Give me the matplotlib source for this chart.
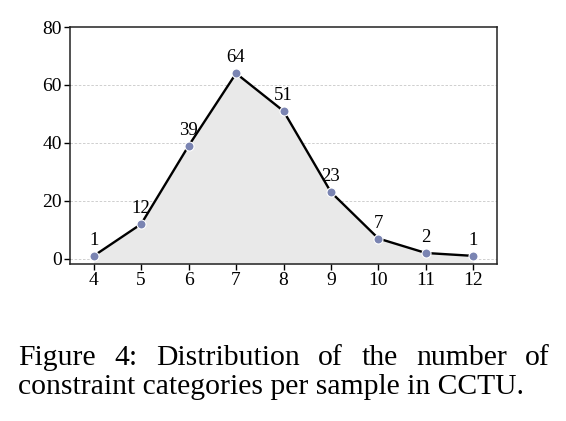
import matplotlib
matplotlib.use("Agg")
import matplotlib.pyplot as plt

categories = [4, 5, 6, 7, 8, 9, 10, 11, 12]
counts = [1, 12, 39, 64, 51, 23, 7, 2, 1]
yticks = [0, 20, 40, 60, 80]
caption_line1 = ["Figure", "4:", "Distribution", "of", "the", "number", "of"]
caption_line2 = "constraint categories per sample in CCTU."

plt.rcParams['font.family'] = ['Liberation Serif', 'DejaVu Serif']

W, H = 566, 421
fig = plt.figure(figsize=(W / 100, H / 100), dpi=100)
ax = fig.add_axes([70 / W, 1 - 264 / H, (497 - 70) / W, (264 - 27) / H])

ybot = -1.8
ax.set_xlim(3.5, 12.5)
ax.set_ylim(ybot, 80)
ax.fill_between(categories, counts, ybot, color='#e9e9e9', zorder=1, linewidth=0)
ax.plot(categories, counts, color='black', lw=1.7, zorder=3)
ax.plot(categories, counts, linestyle='none', marker='o', ms=6.5,
        markerfacecolor='#7a84b2', markeredgecolor='white', markeredgewidth=0.8, zorder=4)
for xv, yv in zip(categories, counts):
    ax.annotate(str(yv), (xv, yv), xytext=(0, 5), textcoords='offset points',
                ha='center', va='bottom', fontsize=13.5)

ax.set_xticks(categories)
ax.set_yticks(yticks)
ax.tick_params(axis='both', labelsize=14, direction='out', length=4, width=1, pad=2)
for g in [0, 20, 40, 60]:
    ax.axhline(g, color='#c8c8c8', lw=0.6, ls=(0, (3, 2)), zorder=0.5)
for s in ax.spines.values():
    s.set_linewidth(1.1)
    s.set_color('#222222')

# caption, justified first line
fs = 21.3
fig.canvas.draw()
r = fig.canvas.get_renderer()
x0, x1 = 18, 550
y1 = 1 - 365 / H
y2 = 1 - 394 / H
texts = [fig.text(0, y1, w, fontsize=fs, va='baseline') for w in caption_line1]
widths = [t.get_window_extent(r).width for t in texts]
gap = (x1 - x0 - sum(widths)) / (len(texts) - 1)
x = x0
for t, w in zip(texts, widths):
    t.set_x(x / W)
    x += w + gap
fig.text(x0 / W, y2, caption_line2, fontsize=fs, va='baseline')

fig.savefig("out.png", dpi=100)
